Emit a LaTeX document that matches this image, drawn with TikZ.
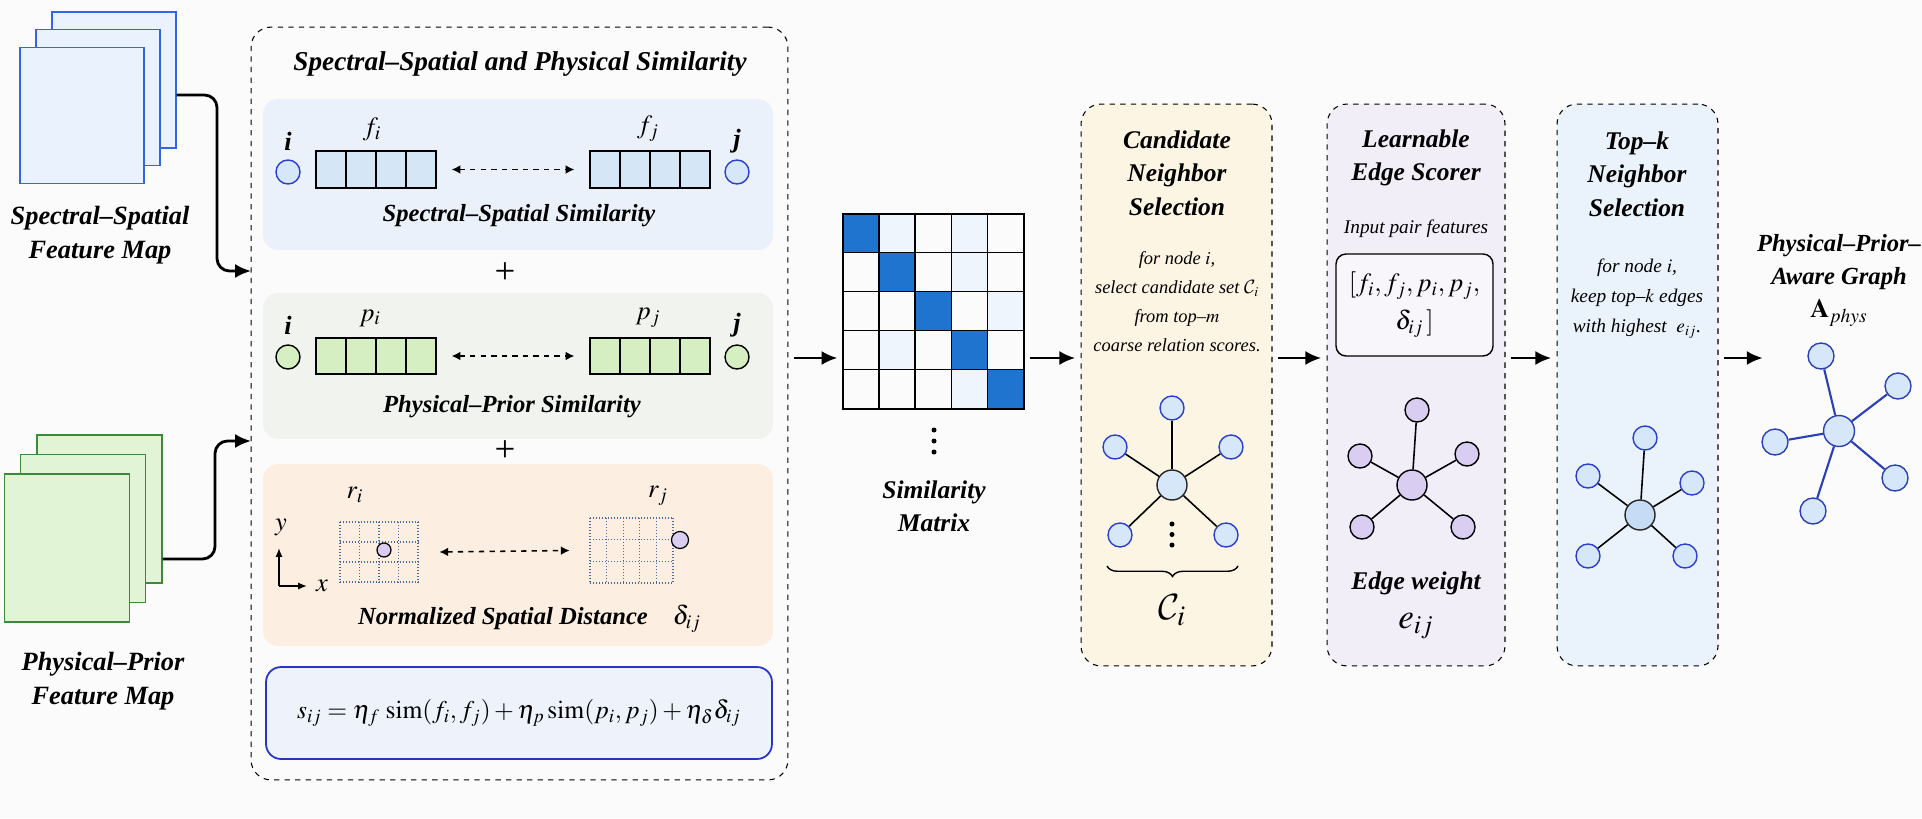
\documentclass[tikz,border=0pt]{standalone}
\usepackage{mathptmx}
\usepackage{amsmath}
\usepackage{fontspec}
\setmainfont{Liberation Serif}
\DeclareMathAlphabet{\mathcal}{OMS}{cmsy}{m}{n}
\usepackage{tikz}
\usetikzlibrary{arrows.meta,positioning,calc,decorations.pathreplacing}

\definecolor{bgcol}{HTML}{FBFBFB}
\definecolor{sblue}{HTML}{3366E6}
\definecolor{sbluefill}{HTML}{EAF3FD}
\definecolor{pgreen}{HTML}{3A8A3A}
\definecolor{pgreenfill}{HTML}{E1F4D6}
\definecolor{rowblue}{HTML}{EAF1FA}
\definecolor{rowgreen}{HTML}{F1F3EE}
\definecolor{rowpeach}{HTML}{FCEFE2}
\definecolor{cellblue}{HTML}{D5E6F7}
\definecolor{cellgreen}{HTML}{D5EFC2}
\definecolor{nodeblue}{HTML}{D6E7FA}
\definecolor{nodeborder}{HTML}{2B3FCF}
\definecolor{eqborder}{HTML}{2635C8}
\definecolor{eqfill}{HTML}{EEF2FB}
\definecolor{diagblue}{HTML}{1F74CF}
\definecolor{lightcell}{HTML}{EEF5FC}
\definecolor{candfill}{HTML}{FDF5E3}
\definecolor{edgefill}{HTML}{F1EEF8}
\definecolor{topkfill}{HTML}{EAF2FB}
\definecolor{lilac}{HTML}{D9CDF2}
\definecolor{gridblue}{HTML}{4A6A9A}
\definecolor{graphblue}{HTML}{2A3FB8}
\definecolor{hubblue}{HTML}{C6DCF5}

\begin{document}
\begin{tikzpicture}[x=0.02cm,y=-0.02cm,
  ttl/.style={font=\fontsize{14.5}{19}\selectfont\bfseries\itshape, align=center},
  desc/.style={font=\fontsize{10.5}{16.5}\selectfont\itshape, align=center},
  mathlbl/.style={font=\fontsize{15}{18}\selectfont},
  sheet/.style={draw=sblue, fill=sbluefill, line width=0.8pt, minimum width=2.48cm, minimum height=2.72cm},
  psheet/.style={draw=pgreen, fill=pgreenfill, line width=0.7pt, minimum width=2.5cm, minimum height=2.96cm},
  panel/.style={draw, dashed, rounded corners=0.4cm, line width=0.6pt},
  rowbox/.style={rounded corners=0.3cm, minimum width=10.2cm},
  fcell/.style={draw, fill=cellblue, minimum width=0.6cm, minimum height=0.74cm, line width=0.7pt, inner sep=0},
  pcell/.style={fcell, fill=cellgreen, minimum height=0.72cm},
  leaf/.style={circle, draw=nodeborder, fill=nodeblue, minimum size=0.48cm, inner sep=0, line width=0.8pt},
  eleaf/.style={leaf, draw=black, fill=lilac},
  hub/.style={circle, draw=black!85, fill=nodeblue, minimum size=0.6cm, inner sep=0, line width=0.8pt},
  spoke/.style={line width=0.9pt},
  dotmark/.style={circle, fill=black, minimum size=0.1cm, inner sep=0},
  gridln/.style={draw=gridblue, densely dotted, line width=0.7pt},
  arr/.style={-{Latex[length=9pt,width=8pt]}, line width=1.6pt, shorten <=3pt, shorten >=3pt},
  dasharr/.style={{Latex[length=5pt,width=5pt]}-{Latex[length=5pt,width=5pt]}, dashed, line width=0.9pt}
]
\fill[bgcol] (0,0) rectangle (1922,818);
\useasboundingbox (0,0) rectangle (1922,818);

\node[sheet] (sback)  at (114,80)   {};
\node[sheet] (smid)   at (98,97.5)  {};
\node[sheet] (sfront) at (82,115.5) {};
\node[ttl, font=\fontsize{15}{19.5}\selectfont\bfseries\itshape] (slbl) at (100,235) {Spectral--Spatial\\Feature Map};
\node[psheet] (pback)  at (99.5,509) {};
\node[psheet] (pmid)   at (83,528.5) {};
\node[psheet] (pfront) at (67,548)   {};
\node[ttl, font=\fontsize{15}{19.5}\selectfont\bfseries\itshape] (plbl) at (103,681.5) {Physical--Prior\\Feature Map};

\node[panel, minimum width=10.74cm, minimum height=15.06cm] (simpanel) at (519.5,403.5) {};
\node[ttl, font=\fontsize{15.5}{19}\selectfont\bfseries\itshape] (simttl) at (520,64) {Spectral--Spatial and Physical Similarity};

\node[rowbox, fill=rowblue, minimum height=3.02cm] (rowf) at (518,174.5) {};
\node[leaf] (fni) at (288,172) {};
\node[leaf] (fnj) at (737,172) {};
\node[ttl, font=\fontsize{15}{18}\selectfont\bfseries\itshape] (fli) at (288,141) {i};
\node[ttl, font=\fontsize{15}{18}\selectfont\bfseries\itshape] (flj) at (737,141) {j};
\foreach \k in {0,...,3} {
  \node[fcell] (fi\k) at ({331+30*\k},169.5) {};
  \node[fcell] (fj\k) at ({605+30*\k},169.5) {};
}
\node[mathlbl] (lfi) at (372,129) {$f_i$};
\node[mathlbl] (lfj) at (648,129) {$f_j$};
\draw[dasharr] ([xshift=0.3cm]fi3.east) -- ([xshift=-0.3cm]fj0.west);
\node[ttl, font=\fontsize{14}{17}\selectfont\bfseries\itshape] (capf) at (519,216) {Spectral--Spatial Similarity};

\node[font=\fontsize{21}{21}\selectfont] (plus1) at (505,273) {+};

\node[rowbox, fill=rowgreen, minimum height=2.92cm] (rowp) at (518,366) {};
\node[leaf, draw=black, fill=cellgreen] (pni) at (288,357) {};
\node[leaf, draw=black, fill=cellgreen] (pnj) at (737,357) {};
\node[ttl, font=\fontsize{15}{18}\selectfont\bfseries\itshape] (pli) at (288,325) {i};
\node[ttl, font=\fontsize{15}{18}\selectfont\bfseries\itshape] (plj) at (737,325) {j};
\foreach \k in {0,...,3} {
  \node[pcell] (pi\k) at ({331+30*\k},356) {};
  \node[pcell] (pj\k) at ({605+30*\k},356) {};
}
\node[mathlbl] (lpi) at (370,318) {$p_i$};
\node[mathlbl] (lpj) at (648,318) {$p_j$};
\draw[dasharr] ([xshift=0.3cm]pi3.east) -- ([xshift=-0.3cm]pj0.west);
\node[ttl, font=\fontsize{14}{17}\selectfont\bfseries\itshape] (capp) at (512,407) {Physical--Prior Similarity};

\node[font=\fontsize{21}{21}\selectfont] (plus2) at (505,451) {+};

\node[rowbox, fill=rowpeach, minimum height=3.64cm] (rowr) at (518,555) {};
\node[minimum width=1.56cm, minimum height=1.2cm, inner sep=0] (gi) at (379,552) {};
\node[minimum width=1.66cm, minimum height=1.3cm, inner sep=0] (gj) at (631.5,550.5) {};
\foreach \k in {0,...,4} \draw[gridln] ({340+19.5*\k},522) -- ++(0,60);
\foreach \k in {0,...,3} \draw[gridln] (340,{522+20*\k}) -- ++(78,0);
\foreach \k in {0,...,5} \draw[gridln] ({590+16.6*\k},518) -- ++(0,65);
\foreach \k in {0,...,3} \draw[gridln] (590,{518+21.67*\k}) -- ++(83,0);
\node[circle, draw, fill=lilac, minimum size=0.28cm, inner sep=0, line width=0.7pt] (ri) at (384,550) {};
\node[circle, draw, fill=lilac, minimum size=0.34cm, inner sep=0, line width=0.7pt] (rj) at (680,540) {};
\node[mathlbl] (lri) at (355,495) {$r_i$};
\node[mathlbl] (lrj) at (658,496) {$r_j$};
\coordinate (ax) at (279,586);
\draw[-{Latex[length=5pt,width=4pt]}, line width=0.9pt] (ax) -- ++(0,-38);
\draw[-{Latex[length=5pt,width=4pt]}, line width=0.9pt] (ax) -- ++(28,0);
\node[mathlbl] (axy) at (281,527) {$y$};
\node[mathlbl] (axx) at (322,586) {$x$};
\draw[dasharr] ([xshift=0.42cm]gi.east) -- ([xshift=-0.4cm]gj.west);
\node[ttl, font=\fontsize{14}{17}\selectfont\bfseries\itshape] (capr) at (503,619) {Normalized Spatial Distance};
\node[mathlbl, right=0.25cm of capr] (capd) {$\delta_{ij}$};

\node[draw=eqborder, fill=eqfill, rounded corners=0.3cm, line width=1pt, minimum width=10.12cm,
      minimum height=1.84cm, font=\fontsize{14.5}{18}\selectfont] (eqbox) at (519,713)
      {$s_{ij} = \eta_f\,\operatorname{sim}(f_i,f_j) + \eta_p\operatorname{sim}(p_i,p_j) + \eta_\delta\delta_{ij}$};

\node[minimum width=3.62cm, minimum height=3.9cm, inner sep=0] (simmat) at (933.5,311.5) {};
\foreach \c/\r in {1/0,3/0,3/1,4/2,1/3,3/4}
  \fill[lightcell] ($(simmat.north west)+(\c*0.724cm,-\r*0.78cm)$) rectangle ++(0.724cm,-0.78cm);
\foreach \k in {0,...,4}
  \fill[diagblue] ($(simmat.north west)+(\k*0.724cm,-\k*0.78cm)$) rectangle ++(0.724cm,-0.78cm);
\foreach \k in {1,...,4} {
  \draw[line width=0.8pt] ($(simmat.north west)+(\k*0.724cm,0)$) -- ++(0,-3.9cm);
  \draw[line width=0.8pt] ($(simmat.north west)+(0,-\k*0.78cm)$) -- ++(3.62cm,0);
}
\draw[line width=1.1pt] (simmat.north west) rectangle (simmat.south east);
\foreach \k in {0,1,2} \node[dotmark] (mdot\k) at (934,{430+11*\k}) {};
\node[ttl] (matlbl) at (934,506.5) {Similarity\\Matrix};

\node[panel, fill=candfill, minimum width=3.82cm, minimum height=11.24cm] (cand) at (1176.5,385) {};
\node[ttl] (candttl) at (1177,173) {Candidate\\Neighbor\\Selection};
\node[desc] (canddesc) at (1177,301.5) {for node $i$,\\select candidate set $\mathcal{C}_i$\\from top--$m$\\coarse relation scores.};
\node[hub] (chub) at (1172,485) {};
\node[leaf] (ct)  at (1172,408) {};
\node[leaf] (cul) at (1115,447) {};
\node[leaf] (cur) at (1231,447) {};
\node[leaf] (cll) at (1120,535) {};
\node[leaf] (clr) at (1226,535) {};
\foreach \n in {ct,cul,cur,cll,clr} \draw[spoke] (chub) -- (\n);
\foreach \k in {0,1,2} \node[dotmark] (cdot\k) at (1172,{524+10.5*\k}) {};
\draw[decorate, decoration={brace, mirror, amplitude=6pt}, line width=0.8pt] (1107,566) -- (1238,566);
\node[font=\fontsize{22}{22}\selectfont] (cset) at (1172,610) {$\mathcal{C}_i$};

\node[panel, fill=edgefill, minimum width=3.56cm, minimum height=11.24cm] (edge) at (1416,385) {};
\node[ttl] (edgettl) at (1416,158) {Learnable\\Edge Scorer};
\node[desc, font=\fontsize{11}{14}\selectfont\itshape] (edgein) at (1416,229) {Input pair features};
\node[draw, rounded corners=0.2cm, fill=white!50!edgefill, minimum width=3.14cm, minimum height=2.04cm,
      line width=0.8pt, align=center, font=\fontsize{15}{21.5}\selectfont] (pairbox) at (1414.5,305)
      {$[f_i, f_j, p_i, p_j,$\\$\delta_{ij}\,]$};
\node[eleaf, minimum size=0.6cm] (ehub) at (1412,485) {};
\node[eleaf] (et)  at (1417,410) {};
\node[eleaf] (eul) at (1360,456) {};
\node[eleaf] (eur) at (1467,454) {};
\node[eleaf] (ell) at (1362,527) {};
\node[eleaf] (elr) at (1463,527) {};
\foreach \n in {et,eul,eur,ell,elr} \draw[spoke] (ehub) -- (\n);
\node[ttl] (ewlbl) at (1416,583) {Edge weight};
\node[font=\fontsize{20}{20}\selectfont] (eij) at (1416,626) {$e_{ij}$};

\node[panel, fill=topkfill, minimum width=3.22cm, minimum height=11.24cm] (topk) at (1637.5,385) {};
\node[ttl] (topkttl) at (1637,174) {Top--k\\Neighbor\\Selection};
\node[desc, font=\fontsize{11}{17}\selectfont\itshape] (topkdesc) at (1637,299) {for node $i$,\\keep top--$k$ edges\\with highest \ $e_{ij}$.};
\node[hub, fill=hubblue] (thub) at (1640,515) {};
\node[leaf] (tt)  at (1645,438) {};
\node[leaf] (tul) at (1588,476) {};
\node[leaf] (tur) at (1692,483) {};
\node[leaf] (tll) at (1588,556) {};
\node[leaf] (tlr) at (1685,556) {};
\foreach \n in {tt,tul,tur,tll,tlr} \draw[spoke] (thub) -- (\n);

\node[ttl, font=\fontsize{14}{19}\selectfont\bfseries\itshape] (graphttl) at (1839,262) {Physical--Prior--\\Aware Graph};
\node[font=\fontsize{15}{18}\selectfont] (aphys) at (1839,313) {$\mathbf{A}_{phys}$};
\node[hub, draw=graphblue, minimum size=0.62cm] (ghub) at (1839,431) {};
\node[leaf, draw=graphblue, minimum size=0.52cm] (gt)  at (1821,356) {};
\node[leaf, draw=graphblue, minimum size=0.52cm] (gur) at (1898,386) {};
\node[leaf, draw=graphblue, minimum size=0.52cm] (gl)  at (1775,442) {};
\node[leaf, draw=graphblue, minimum size=0.52cm] (glr) at (1895,478) {};
\node[leaf, draw=graphblue, minimum size=0.52cm] (gb)  at (1813,511) {};
\foreach \n in {gt,gur,gl,glr,gb} \draw[spoke, draw=graphblue, line width=1.2pt] (ghub) -- (\n);

\coordinate (ssin) at (251,271);
\coordinate (ppin) at (251,441);
\draw[arr, rounded corners=0.25cm, shorten <=0pt, shorten >=0pt] ([yshift=-0.3cm]sback.east) -| ([xshift=-0.68cm]ssin) -- (ssin);
\draw[arr, rounded corners=0.25cm, shorten <=0pt, shorten >=0pt] ([yshift=-1cm]pback.east) -| ([xshift=-0.72cm]ppin) -- (ppin);

\coordinate (ay) at (0,358);
\coordinate (gin) at (1768,358);
\draw[arr] (simpanel.east |- ay) -- (simmat.west |- ay);
\draw[arr] (simmat.east |- ay) -- (cand.west |- ay);
\draw[arr] (cand.east |- ay) -- (edge.west |- ay);
\draw[arr] (edge.east |- ay) -- (topk.west |- ay);
\draw[arr] (topk.east |- ay) -- (gin);
\end{tikzpicture}
\end{document}
